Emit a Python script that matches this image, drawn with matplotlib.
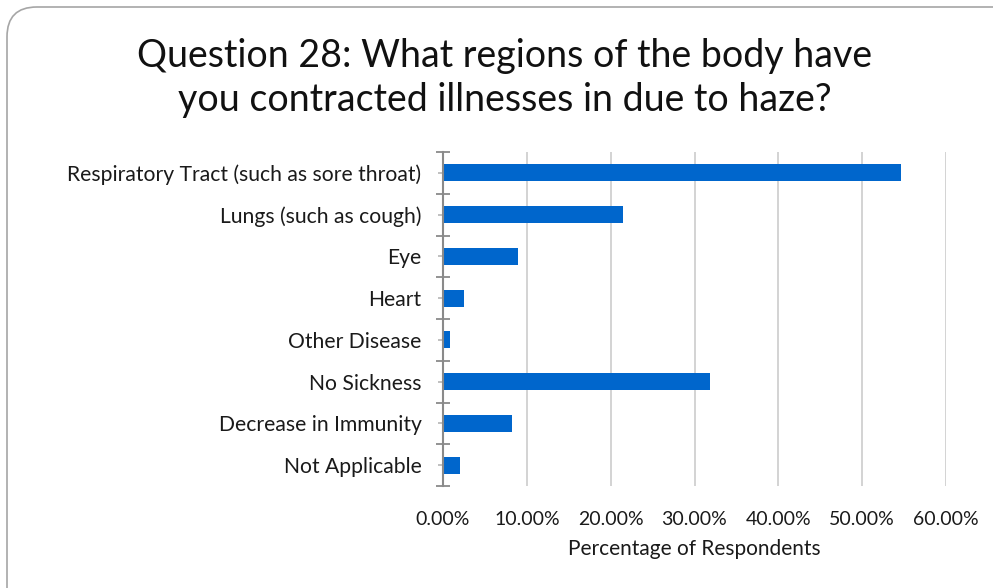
import numpy as np
import matplotlib
matplotlib.use('Agg')
import matplotlib.pyplot as plt
from matplotlib.patches import FancyBboxPatch
from matplotlib.ticker import FuncFormatter, FixedLocator

plt.rcParams['font.family'] = ['Lato', 'DejaVu Sans']

categories = ['Respiratory Tract (such as sore throat)', 'Lungs (such as cough)', 'Eye',
              'Heart', 'Other Disease', 'No Sickness', 'Decrease in Immunity', 'Not Applicable']
shares = [0.546, 0.215, 0.089, 0.025, 0.008, 0.319, 0.082, 0.020]
xTicks = [0.0, 0.1, 0.2, 0.3, 0.4, 0.5, 0.6]

fig = plt.figure(figsize=(9.93, 5.88), dpi=100)

# rounded chart frame, running off the right and bottom edges
frame = FancyBboxPatch((7 / 993, 1 - 7 / 588 - 1.2), 1.2, 1.2, transform=fig.transFigure,
                       boxstyle='round,pad=0,rounding_size=0.03',
                       facecolor='white', edgecolor='#a6a6a6', linewidth=1.2,
                       mutation_aspect=993 / 588, zorder=-5)
fig.patches.append(frame)

ax = fig.add_axes([443 / 993, 1 - 486 / 588, (946 - 443) / 993, (486 - 152) / 588])
ax.set_facecolor('none')

pos = np.arange(len(categories))
ax.barh(pos, shares, height=0.41, color='#0066CC', zorder=3)
ax.set_ylim(len(categories) - 0.5, -0.5)
ax.set_xlim(0, 0.6)

ax.set_yticks(pos)
ax.set_yticklabels(categories, fontsize=15.2, color='#1a1a1a')
ax.yaxis.set_minor_locator(FixedLocator(np.arange(-0.5, len(categories), 1.0)))
ax.tick_params(axis='y', which='major', direction='inout', length=7, width=1.2,
               color='#b5b5b5', pad=12)
ax.tick_params(axis='y', which='minor', direction='inout', length=10, width=1.3,
               color='#8a8a8a')

ax.set_xticks(xTicks)
ax.xaxis.set_major_formatter(FuncFormatter(lambda v, p: '{:.2f}%'.format(v * 100)))
ax.tick_params(axis='x', length=0, labelsize=14, labelcolor='#1a1a1a', pad=18)
ax.grid(axis='x', color='#d0d0d0', linewidth=1.3, zorder=0)

for side in ['top', 'right', 'bottom']:
    ax.spines[side].set_visible(False)
ax.spines['left'].set_color('#8a8a8a')
ax.spines['left'].set_linewidth(1.5)
ax.spines['left'].set_zorder(4)

ax.set_xlabel('Percentage of Respondents', fontsize=15, color='#1a1a1a', labelpad=8)

fig.text(505 / 993, 1 - 78 / 588, 'Question 28: What regions of the body have\nyou contracted illnesses in due to haze?',
         ha='center', va='center', fontsize=27, color='#111111', linespacing=1.25)

fig.savefig('out.png', dpi=100)
